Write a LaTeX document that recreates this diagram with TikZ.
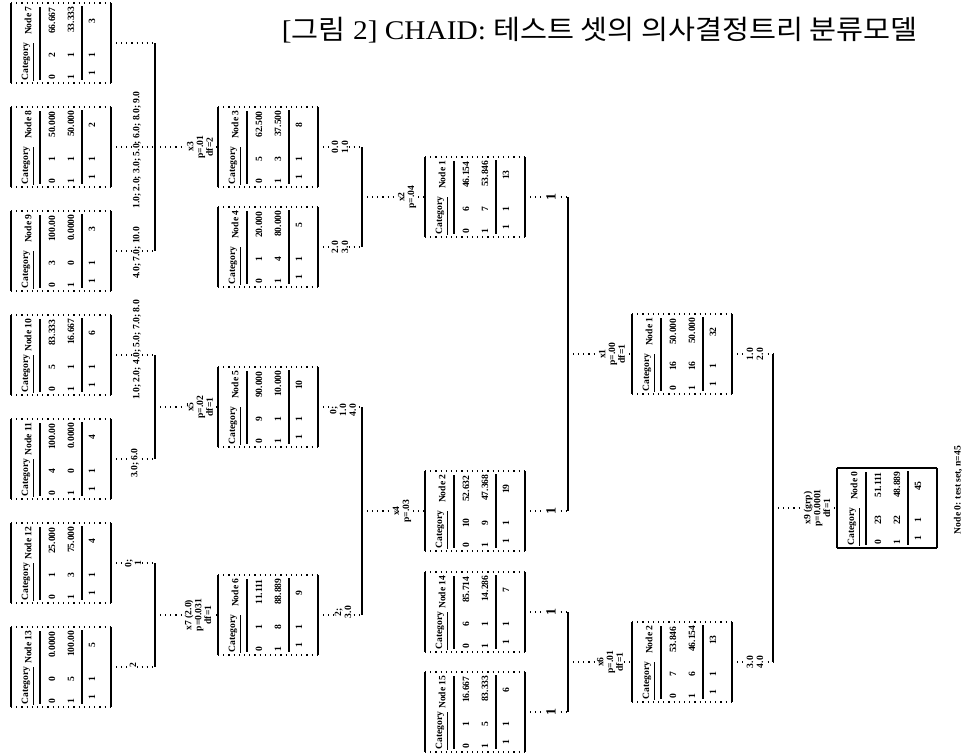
\documentclass[tikz,border=0pt]{standalone}
\usepackage{fontspec}
\usepackage{graphicx}
\setmainfont{Liberation Serif}
\newfontfamily\krfont{Noto Sans CJK KR}
\tikzset{
  conn/.style={dotted, line width=0.55pt},
  brk/.style={line width=0.85pt},
  elab/.style={font=\fontsize{4.8}{4.9}\selectfont\bfseries, rotate=90, fill=white, inner sep=0.6pt, align=center},
  cell/.style={font=\fontsize{4.8}{4.8}\selectfont\bfseries, rotate=90, inner sep=0pt},
  boxarea/.style={minimum width=50pt, minimum height=40pt, inner sep=0pt, outer sep=0pt},
  barmark/.style={font=\fontsize{7}{7}\selectfont\bfseries, rotate=90, fill=white, inner sep=0.5pt},
}
% name, cx, cy, node id, p0, n0, p1, n1, total
\newcommand\chbox[9]{%
  \node[boxarea] (#1) at (#2,#3) {};
  \begin{scope}[shift={(#1.center)}]
    \draw[dotted, line width=0.6pt] (-50,-40) -- (50,-40) (-50,40) -- (50,40);
    \draw[line width=0.9pt] (-50,-40) -- (-50,40) (50,-40) -- (50,40);
    \draw[line width=0.75pt] (-21,-36) -- (-21,37) (21,-37) -- (21,37);
    \node[cell, anchor=east] (#1-a) at (-33,-37) {Node #4};
    \node[cell, anchor=west] (#1-b) at (-33,38) {\underline{Category}};
    \node[cell, anchor=east] (#1-c) at (-9,-36) {#5};
    \node[cell] (#1-d) at (-9,12) {#6};
    \node[cell, anchor=west] (#1-e) at (-9,37) {0};
    \node[cell, anchor=east] (#1-f) at (10,-37) {#7};
    \node[cell] (#1-g) at (10,12) {#8};
    \node[cell, anchor=west] (#1-h) at (10,37) {1};
    \node[cell] (#1-i) at (31,-22) {#9};
    \node[cell] (#1-j) at (31,12) {1};
    \node[cell] (#1-k) at (31,30) {1};
  \end{scope}}
\begin{document}
\begin{tikzpicture}[x=0.5pt,y=-0.5pt]
\useasboundingbox (0,0) rectangle (971,755);

\node[inner sep=0pt, font=\fontsize{13.5}{13.5}\selectfont] (title) at (600,30)
  {\scalebox{1.087}[1]{[{\krfont 그림} 2] CHAID:\ {\krfont 테스트 셋의 의사결정트리 분류모델}}};

% leaves, column A
\chbox{A1}{61}{43}{7}{66.667}{2}{33.333}{1}{3}
\chbox{A2}{61}{147}{8}{50.000}{1}{50.000}{1}{2}
\chbox{A3}{61}{251}{9}{100.00}{3}{0.0000}{0}{3}
\chbox{A4}{61}{355}{10}{83.333}{5}{16.667}{1}{6}
\chbox{A5}{61}{459}{11}{100.00}{4}{0.0000}{0}{4}
\chbox{A6}{61}{563}{12}{25.000}{1}{75.000}{3}{4}
\chbox{A7}{61}{667}{13}{0.0000}{0}{100.00}{5}{5}
% column B
\chbox{B1}{268}{147}{3}{62.500}{5}{37.500}{3}{8}
\chbox{B2}{268}{247}{4}{20.000}{1}{80.000}{4}{5}
\chbox{B3}{268}{407}{5}{90.000}{9}{10.000}{1}{10}
\chbox{B4}{268}{615}{6}{11.111}{1}{88.889}{8}{9}
% column N
\chbox{N1}{475}{197}{1}{46.154}{6}{53.846}{7}{13}
\chbox{N2}{475}{511}{2}{52.632}{10}{47.368}{9}{19}
\chbox{N3}{475}{612}{14}{85.714}{6}{14.286}{1}{7}
\chbox{N4}{475}{712}{15}{16.667}{1}{83.333}{5}{6}
% column R
\chbox{R1}{682}{354}{1}{50.000}{16}{50.000}{16}{32}
\chbox{R2}{682}{662}{2}{53.846}{7}{46.154}{6}{13}
% root
\chbox{R0}{887}{508}{0}{51.111}{23}{48.889}{22}{45}
\draw[line width=0.7pt] (R0.north west) -- (R0.north east) (R0.south west) -- (R0.south east);

% brackets
\coordinate (g1t) at (155,43);  \coordinate (g1m) at (155,147); \coordinate (g1b) at (155,251);
\coordinate (g2t) at (155,355); \coordinate (g2m) at (155,407); \coordinate (g2b) at (155,459);
\coordinate (g3t) at (155,563); \coordinate (g3m) at (155,615); \coordinate (g3b) at (155,667);
\coordinate (h1t) at (362,147); \coordinate (h1m) at (362,197); \coordinate (h1b) at (362,247);
\coordinate (h2t) at (362,407); \coordinate (h2m) at (362,511); \coordinate (h2b) at (362,615);
\coordinate (k1t) at (568,197); \coordinate (k1m) at (568,354); \coordinate (k1b) at (568,511);
\coordinate (k2t) at (568,612); \coordinate (k2m) at (568,662); \coordinate (k2b) at (568,712);
\coordinate (mt) at (773,354);  \coordinate (mm) at (773,508);  \coordinate (mb) at (773,662);

\draw[brk] (g1t) -- (g1b) (g2t) -- (g2b) (g3t) -- (g3b)
           (h1t) -- (h1b) (h2t) -- (h2b)
           (k1t) -- (k1b) (k2t) -- (k2b) (mt) -- (mb);

\draw[conn] (A1.east) -- (g1t);
\draw[conn] (A2.east) -- (g1m);
\draw[conn] (A3.east) -- (g1b);
\draw[conn] (g1m) -- (B1.west);
\draw[conn] (A4.east) -- (g2t);
\draw[conn] (A5.east) -- (g2b);
\draw[conn] (g2m) -- (B3.west);
\draw[conn] (A6.east) -- (g3t);
\draw[conn] (A7.east) -- (g3b);
\draw[conn] (g3m) -- (B4.west);
\draw[conn] (B1.east) -- (h1t);
\draw[conn] (B2.east) -- (h1b);
\draw[conn] (h1m) -- (N1.west);
\draw[conn] (B3.east) -- (h2t);
\draw[conn] (B4.east) -- (h2b);
\draw[conn] (h2m) -- (N2.west);
\draw[conn] (N1.east) -- (k1t);
\draw[conn] (N2.east) -- (k1b);
\draw[conn] (k1m) -- (R1.west);
\draw[conn] (N3.east) -- (k2t);
\draw[conn] (N4.east) -- (k2b);
\draw[conn] (k2m) -- (R2.west);
\draw[conn] (R1.east) -- (mt);
\draw[conn] (R2.east) -- (mb);
\draw[conn] (mm) -- (R0.west);

% edge labels, column A -> B
\node[elab] (lA2) at (137,150) {1.0; 2.0; 3.0; 5.0; 6.0; 8.0; 9.0};
\node[elab] (lA3) at (137,253) {4.0; 7.0; 10.0};
\node[elab] (lA4) at (137,350) {1.0; 2.0; 4.0; 5.0; 7.0; 8.0};
\node[elab] (lA5) at (135,463) {3.0; 6.0};
\node[elab] (lA6) at (133,563) {0;\\1};
\node[elab] (lA7) at (133,665) {2};
\node[elab] (lB1) at (200,147) {x3\\p=.01\\df=2};
\node[elab] (lB3) at (200,407) {x5\\p=.02\\df=1};
\node[elab] (lB4) at (198,615) {x7 (2.0)\\p=0.031\\df=1};
% column B -> N
\node[elab] (lB1o) at (340,147) {0.0\\1.0};
\node[elab] (lB2o) at (340,247) {2.0\\3.0};
\node[elab] (lB3o) at (343,410) {0;\\1.0\\4.0};
\node[elab] (lB4o) at (343,612) {2;\\3.0};
\node[elab] (lN1) at (407,197) {x2\\p=.04};
\node[elab] (lN2) at (402,511) {x4\\p=.03};
% column N -> R
\node[barmark] (dN1) at (551,197) {1};
\node[barmark] (dN2) at (551,511) {1};
\node[barmark] (dN3) at (551,612) {1};
\node[barmark] (dN4) at (551,712) {1};
\node[elab] (lR1) at (612,354) {x1\\p=.00\\df=1};
\node[elab] (lR2) at (610,662) {x6\\p=.01\\df=1};
% column R -> root
\node[elab] (lR1o) at (755,354) {1.0\\2.0};
\node[elab] (lR2o) at (755,662) {3.0\\4.0};
\node[elab] (lR0) at (817,508) {x9 (grp)\\p=0.0001\\df=1};
\node[font=\fontsize{4.8}{4.8}\selectfont\bfseries, rotate=90, inner sep=0pt] (tot) at (958,490) {Node 0: test set, n=45};
\end{tikzpicture}
\end{document}
